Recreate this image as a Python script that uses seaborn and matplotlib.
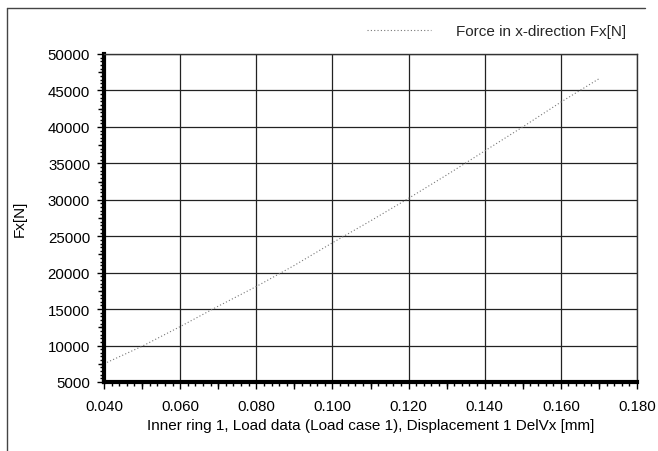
import seaborn as sns
import matplotlib.pyplot as plt
from matplotlib.ticker import MultipleLocator
from matplotlib.lines import Line2D
import numpy as np
import pandas as pd

# displacement [mm] and force [N]
displacement = [0.040, 0.050, 0.060, 0.070, 0.080, 0.090, 0.100, 0.110,
                0.120, 0.130, 0.140, 0.150, 0.160, 0.170]
force = [7500, 9900, 12600, 15400, 18100, 21000, 24100, 27100,
         30200, 33400, 36700, 40000, 43400, 46600]

x_ticks = [0.040, 0.060, 0.080, 0.100, 0.120, 0.140, 0.160, 0.180]
y_ticks = [5000, 10000, 15000, 20000, 25000, 30000, 35000, 40000, 45000, 50000]
series_name = "Force in x-direction Fx[N]"

sns.set_theme(style="white")
plt.rcParams['font.family'] = ['Liberation Sans', 'DejaVu Sans']

df = pd.DataFrame({"x": displacement, "y": force})

fig = plt.figure(figsize=(6.58, 4.52), dpi=100)
ax = fig.add_axes([104/658, 1-383/452, (637-104)/658, (383-55)/452])

sns.lineplot(data=df, x="x", y="y", ax=ax, color="#777777", lw=0.8,
             linestyle=(0, (1, 2)), legend=False)

ax.set_xlim(0.040, 0.180)
ax.set_ylim(5000, 50000)
ax.set_xticks(x_ticks, labels=[f"{v:.3f}" for v in x_ticks])
ax.set_yticks(y_ticks, labels=[str(v) for v in y_ticks])
ax.xaxis.set_minor_locator(MultipleLocator(0.002))
ax.yaxis.set_minor_locator(MultipleLocator(500))
ax.grid(True, which="major", color="#222222", lw=0.9)
ax.tick_params(axis="both", which="major", direction="out", length=5, width=1,
               color="black", labelsize=10.8, labelcolor="black")
ax.tick_params(axis="x", which="major", pad=7)
ax.tick_params(axis="y", which="major", pad=5)
ax.tick_params(axis="both", which="minor", direction="out", length=3, width=1,
               color="black")
ax.tick_params(axis="x", which="both", bottom=True)
ax.tick_params(axis="y", which="both", left=True)

for side in ["left", "bottom"]:
    ax.spines[side].set_linewidth(3)
    ax.spines[side].set_color("black")
for side in ["top", "right"]:
    ax.spines[side].set_linewidth(1)
    ax.spines[side].set_color("#333333")

# medium ticks at the half steps
sx = ax.secondary_xaxis("bottom")
sx.set_xticks([0.050, 0.070, 0.090, 0.110, 0.130, 0.150, 0.170], labels=[])
sx.tick_params(length=5, width=1, color="black")
sx.spines["bottom"].set_visible(False)
sy = ax.secondary_yaxis("left")
sy.set_yticks([7500, 12500, 17500, 22500, 27500, 32500, 37500, 42500, 47500], labels=[])
sy.tick_params(length=4, width=1, color="black")
sy.spines["left"].set_visible(False)

ax.set_xlabel("Inner ring 1, Load data (Load case 1), Displacement 1 DelVx [mm]",
              fontsize=11, color="black", labelpad=4)
ax.set_ylabel("Fx[N]", fontsize=11, color="black")
ax.yaxis.set_label_coords(-0.145, 0.5)

handle = Line2D([], [], color="#777777", lw=0.8, linestyle=(0, (1, 2)))
fig.legend([handle], [series_name], loc="center right", bbox_to_anchor=(626/658, 1-32/452),
           frameon=False, fontsize=11, handlelength=4.2, handletextpad=1.6,
           borderaxespad=0, borderpad=0)

# outer frame (top and left edges)
fig.add_artist(Line2D([7/658, 645/658], [1-9/452, 1-9/452], color="#444444", lw=1))
fig.add_artist(Line2D([7/658, 7/658], [0, 1-9/452], color="#444444", lw=1))

fig.savefig("out.png", dpi=100)
